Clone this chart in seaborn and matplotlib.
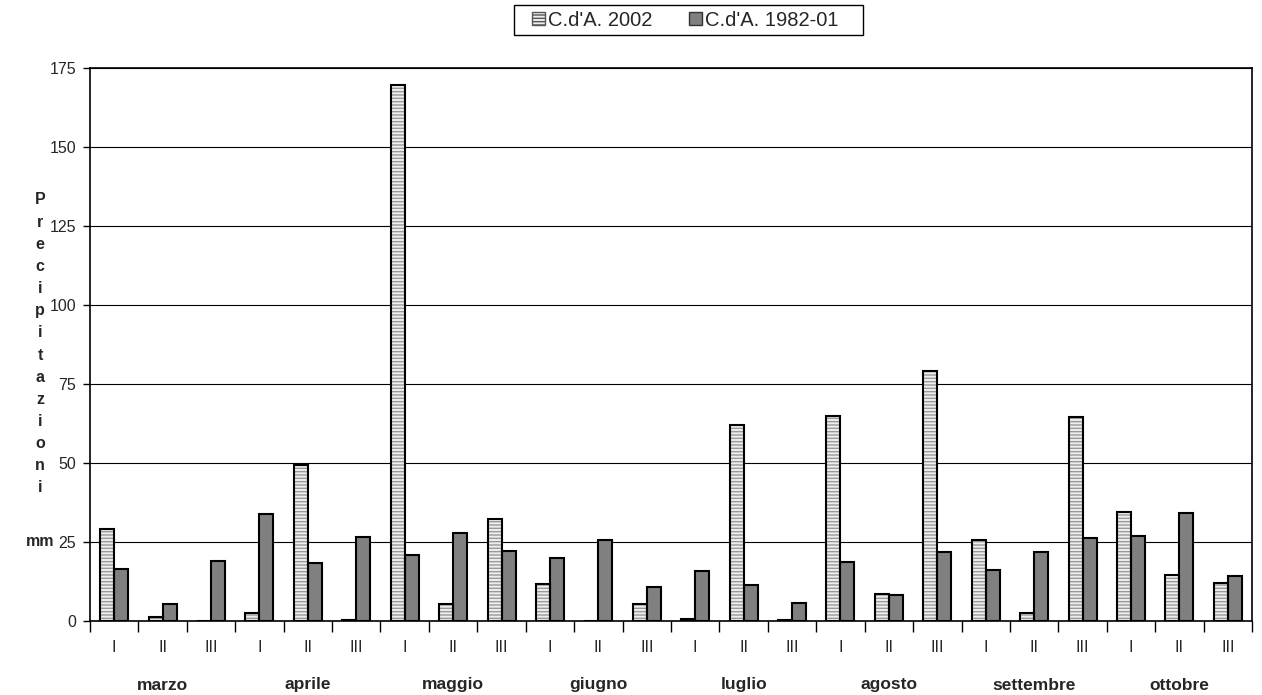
import numpy as np
import pandas as pd
import seaborn as sns
import matplotlib
matplotlib.use("Agg")
import matplotlib.pyplot as plt
from matplotlib.patches import Rectangle, Patch
from matplotlib.ticker import MultipleLocator, FixedLocator

months = ["marzo", "aprile", "maggio", "giugno", "luglio", "agosto", "settembre", "ottobre"]
decadi = ["I", "II", "III"]
series_names = ["C.d'A. 2002", "C.d'A. 1982-01"]
cda_2002 = [29.0, 1.2, 0.0, 2.4, 49.3, 0.3, 169.5, 5.4, 32.3, 11.8, 0.0, 5.4,
            0.5, 62.0, 0.2, 64.9, 8.7, 79.1, 25.7, 2.4, 64.6, 34.4, 14.5, 12.0]
cda_1982_01 = [16.6, 5.4, 19.1, 34.0, 18.4, 26.5, 20.8, 27.9, 22.2, 19.8, 25.5, 10.8,
               15.9, 11.5, 5.6, 18.6, 8.2, 21.8, 16.2, 21.8, 26.4, 27.0, 34.3, 14.1]
y_label_text = "Precipitazioni"
y_unit = "mm"

cats = [f"{m} {d}" for m in months for d in decadi]
df = pd.DataFrame({
    "cat": cats * 2,
    "val": cda_2002 + cda_1982_01,
    "serie": [series_names[0]] * len(cats) + [series_names[1]] * len(cats),
})

sns.set_style("white")
plt.rcParams["font.family"] = ["Liberation Sans", "DejaVu Sans"]
plt.rcParams["hatch.linewidth"] = 1.0

light_face = "#eeeeee"
hatch_col = "#9a9a9a"
dark_face = "#808080"

W, H = 1262, 695
fig = plt.figure(figsize=(W / 100, H / 100), dpi=100)
ax = fig.add_axes([90 / W, 74 / H, 1162 / W, 553 / H])

sns.barplot(data=df, x="cat", y="val", hue="serie", order=cats, hue_order=series_names,
            palette=[light_face, dark_face], width=0.58, saturation=1,
            edgecolor="black", linewidth=1.5, ax=ax, legend=False, errorbar=None)

# hatch the 2002 bars with grey stripes and keep a black outline on top
for p in ax.containers[0]:
    p.set_hatch("-----")
    p.set_edgecolor(hatch_col)
    p.set_linewidth(0)
    ax.add_patch(Rectangle(p.get_xy(), p.get_width(), p.get_height(), fill=False,
                           edgecolor="black", linewidth=1.5, zorder=p.get_zorder() + 0.1))

ax.set_xlim(-0.5, len(cats) - 0.5)
ax.set_ylim(0, 175)
ax.yaxis.set_major_locator(MultipleLocator(25))
ax.yaxis.grid(True, color="black", linewidth=0.8)
ax.set_axisbelow(True)
for s in ax.spines.values():
    s.set_color("black")
    s.set_linewidth(1.2)
    s.set_visible(True)

ax.set_xlabel("")
ax.set_ylabel("")
ax.set_xticks(range(len(cats)))
ax.set_xticklabels(decadi * len(months), fontsize=11.5)
ax.xaxis.set_minor_locator(FixedLocator(np.arange(-0.5, len(cats), 1.0)))
ax.tick_params(axis="x", which="major", length=0, pad=14)
ax.tick_params(axis="x", which="minor", length=8, width=1, color="black", direction="out", bottom=True)
ax.tick_params(axis="y", which="major", length=5, width=1, color="black", direction="out",
               left=True, labelsize=11.5, pad=5)

for i, m in enumerate(months):
    ax.text(3 * i + 1, -(685 - 621) / 553, m, transform=ax.get_xaxis_transform(),
            ha="center", va="center", fontsize=12.5, fontweight="bold")

for k, ch in enumerate(y_label_text):
    fig.text(40 / W, 1 - (200 + k * 22.15) / H, ch, ha="center", va="center",
             fontsize=11.5, fontweight="bold")
fig.text(40 / W, 1 - 542 / H, y_unit, ha="center", va="center", fontsize=11.5, fontweight="bold")

handles = [Patch(facecolor=light_face, edgecolor="#555555", hatch="-----", linewidth=1),
           Patch(facecolor=dark_face, edgecolor="#333333", linewidth=1)]
leg = fig.legend(handles, series_names, loc="center", bbox_to_anchor=(685 / W, 1 - 20 / H),
                 ncol=2, frameon=False, fontsize=14.5,
                 handlelength=0.65, handleheight=0.65, handletextpad=0.15, columnspacing=1.8,
                 borderpad=0.3)
# legend box outline
fig.add_artist(Rectangle((514 / W, 1 - 35 / H), 349 / W, 30 / H, transform=fig.transFigure,
                         fill=False, edgecolor="black", linewidth=1.0))

fig.savefig("out.png", dpi=100, facecolor="white")
